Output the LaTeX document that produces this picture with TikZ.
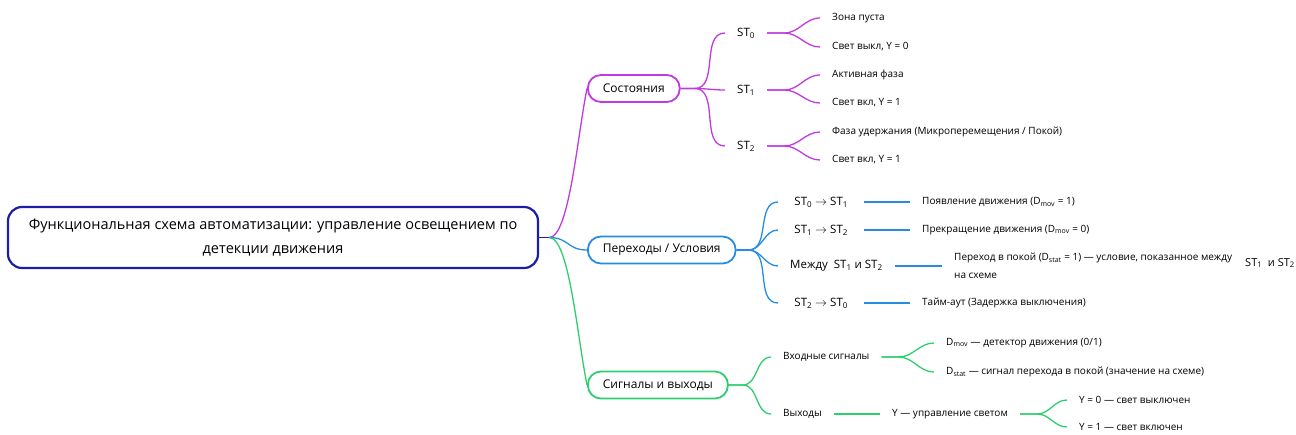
\documentclass[tikz,border=0pt]{standalone}
\usepackage{fontspec}
\setmainfont{Open Sans}
\definecolor{rootblue}{RGB}{28,30,168}
\definecolor{mmpurple}{RGB}{192,58,228}
\definecolor{mmblue}{RGB}{38,140,226}
\definecolor{mmgreen}{RGB}{44,206,112}
\newcommand{\st}[1]{ST\textsubscript{#1}}
\newcommand{\sarrow}{\ensuremath{\rightarrow}}

\begin{document}
\begin{tikzpicture}[x=1pt,y=-1pt]
	\tikzstyle{every node}=[inner sep=0pt, font=\fontsize{10}{12}\selectfont]
	\tikzstyle{rootbox}=[draw=rootblue, line width=2.2pt, rounded corners=14pt,
	minimum width=530pt, minimum height=61pt, align=center,
	font=\fontsize{14.5}{24}\selectfont]
	\tikzstyle{pill}=[draw, line width=1.8pt, rounded corners=13pt, anchor=west,
	minimum height=27pt, inner xsep=15pt, font=\fontsize{12}{14}\selectfont]
	\tikzstyle{item}=[anchor=west, inner xsep=12pt, inner ysep=2pt]
	\tikzstyle{stlabel}=[item, font=\fontsize{11.5}{14}\selectfont]
	\tikzstyle{trlabel}=[stlabel, minimum width=86pt]
	\tikzstyle{branch}=[line width=1.3pt]
	\useasboundingbox (0,0) rectangle (1296,434);
	
	\node[rootbox] (root) at (273,237.5) {Функциональная схема автоматизации: управление освещением по\\детекции движения};
	\coordinate (hub) at ([xshift=10pt]root.east);
	
	\node[pill, draw=mmpurple] (states) at (587,88.5) {Состояния};
	\node[pill, draw=mmblue] (trans) at (587,250) {Переходы / Условия};
	\node[pill, draw=mmgreen] (signals) at (587,385) {Сигналы и выходы};
	
	\node[stlabel] (st0) at (725,33) {\st{0}};
	\node[stlabel] (st1) at (725,90) {\st{1}};
	\node[stlabel] (st2) at (725,146) {\st{2}};
	\node[item] (empty) at (820,18) {Зона пуста};
	\node[item] (off0) at (820,47) {Свет выкл, Y = 0};
	\node[item] (active) at (820,75) {Активная фаза};
	\node[item] (on1) at (820,103) {Свет вкл, Y = 1};
	\node[item] (hold) at (820,132) {Фаза удержания (Микроперемещения / Покой)};
	\node[item] (on2) at (820,160) {Свет вкл, Y = 1};
	
	\node[trlabel] (t01) at (778,202) {\st{0} \sarrow{} \st{1}};
	\node[trlabel] (t12) at (778,230) {\st{1} \sarrow{} \st{2}};
	\node[trlabel] (tmid) at (778,266) {Между \ \st{1} и \st{2}};
	\node[trlabel] (t20) at (778,303) {\st{2} \sarrow{} \st{0}};
	\node[item] (c01) at (910,202) {Появление движения (D\textsubscript{mov} = 1)};
	\node[item] (c12) at (910,230) {Прекращение движения (D\textsubscript{mov} = 0)};
	\node[item, align=left, font=\fontsize{10}{18}\selectfont] (cmid) at (942,266) {Переход в покой (D\textsubscript{stat} = 1) — условие, показанное между\\на схеме};
	\node[anchor=west, font=\fontsize{11}{13}\selectfont] (cmidst) at (1245,263) {\st{1} \ и \st{2}};
	\node[item] (c20) at (910,303) {Тайм-аут (Задержка выключения)};
	
	\node[item] (inputs) at (771,357) {Входные сигналы};
	\node[item] (outputs) at (771,414) {Выходы};
	\node[item] (dmov) at (934,343) {D\textsubscript{mov} — детектор движения (0/1)};
	\node[item] (dstat) at (934,372) {D\textsubscript{stat} — сигнал перехода в покой (значение на схеме)};
	\node[item] (yctl) at (880,414) {Y — управление светом};
	\node[item] (yoff) at (1067,400) {Y = 0 — свет выключен};
	\node[item] (yon) at (1067,427) {Y = 1 — свет включен};
	
	\draw[branch, rootblue] (root.east) -- (hub);
	\draw[branch, mmpurple] (hub) .. controls +(20,0) and +(-10,50) .. (states.west);
	\draw[branch, mmblue] (hub) .. controls +(20,0) and +(-20,0) .. (trans.west);
	\draw[branch, mmgreen] (hub) .. controls +(20,0) and +(-10,-50) .. (signals.west);
	
	\foreach \n in {st0,st1,st2}
		\draw[branch, mmpurple] (states.east) -- ++(14,0) to[out=0,in=180] (\n.west);
	\draw[branch, mmpurple] (st0.east) -- ++(17,0) to[out=0,in=180] (empty.west);
	\draw[branch, mmpurple] (st0.east) -- ++(17,0) to[out=0,in=180] (off0.west);
	\draw[branch, mmpurple] (st1.east) -- ++(17,0) to[out=0,in=180] (active.west);
	\draw[branch, mmpurple] (st1.east) -- ++(17,0) to[out=0,in=180] (on1.west);
	\draw[branch, mmpurple] (st2.east) -- ++(17,0) to[out=0,in=180] (hold.west);
	\draw[branch, mmpurple] (st2.east) -- ++(17,0) to[out=0,in=180] (on2.west);
	
	\foreach \n/\c in {t01/c01,t12/c12,tmid/cmid,t20/c20}{
		\draw[branch, mmblue] (trans.east) -- ++(12,0) to[out=0,in=180] (\n.west);
		\draw[branch, mmblue] (\n.east) -- (\c.west);
	}
	
	\draw[branch, mmgreen] (signals.east) -- ++(14,0) to[out=0,in=180] (inputs.west);
	\draw[branch, mmgreen] (signals.east) -- ++(14,0) to[out=0,in=180] (outputs.west);
	\draw[branch, mmgreen] (inputs.east) -- ++(17,0) to[out=0,in=180] (dmov.west);
	\draw[branch, mmgreen] (inputs.east) -- ++(17,0) to[out=0,in=180] (dstat.west);
	\draw[branch, mmgreen] (outputs.east) -- (yctl.west);
	\draw[branch, mmgreen] (yctl.east) -- ++(17,0) to[out=0,in=180] (yoff.west);
	\draw[branch, mmgreen] (yctl.east) -- ++(17,0) to[out=0,in=180] (yon.west);
\end{tikzpicture}
\end{document}
